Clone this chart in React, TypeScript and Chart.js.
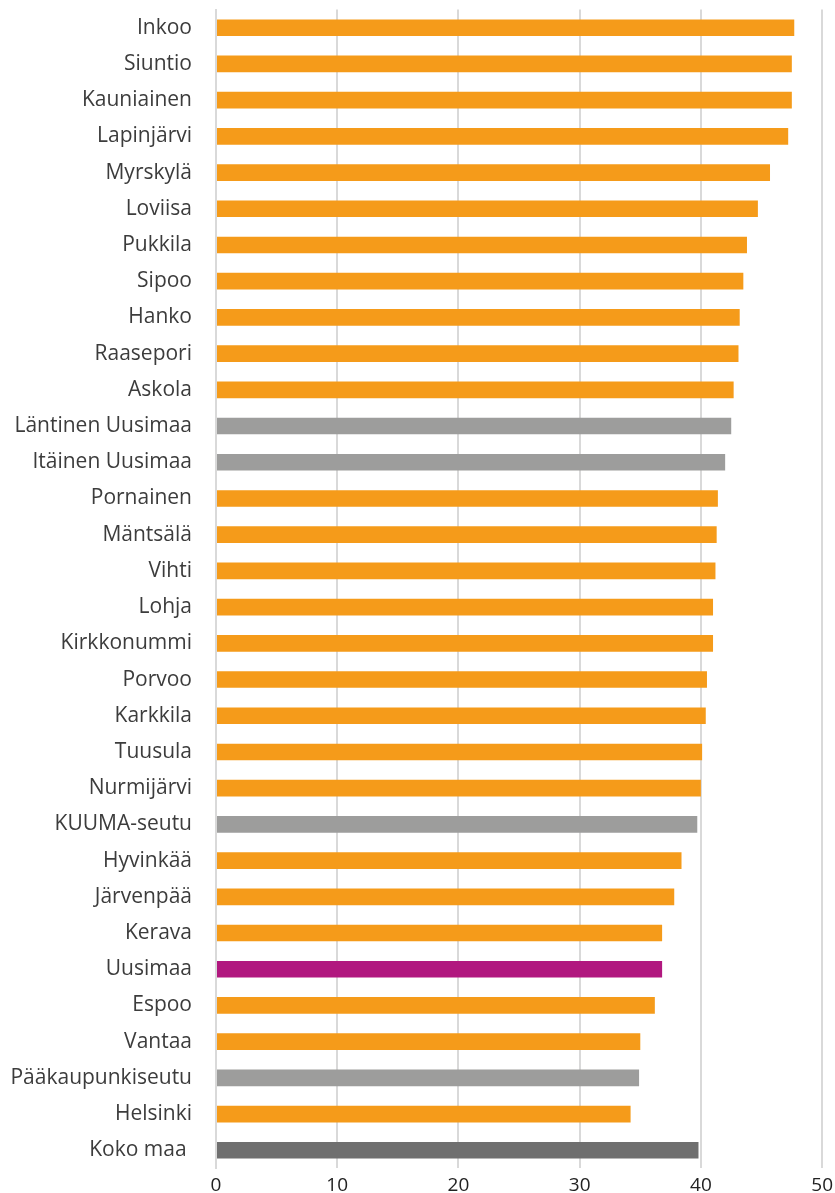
import React, { useEffect, useRef } from "react";
import { Chart, registerables } from "chart.js";

Chart.register(...registerables);

const categories = [
  "Inkoo", "Siuntio", "Kauniainen", "Lapinjärvi", "Myrskylä", "Loviisa", "Pukkila", "Sipoo",
  "Hanko", "Raasepori", "Askola", "Läntinen Uusimaa", "Itäinen Uusimaa", "Pornainen", "Mäntsälä",
  "Vihti", "Lohja", "Kirkkonummi", "Porvoo", "Karkkila", "Tuusula", "Nurmijärvi", "KUUMA-seutu",
  "Hyvinkää", "Järvenpää", "Kerava", "Uusimaa", "Espoo", "Vantaa", "Pääkaupunkiseutu", "Helsinki",
  "Koko maa ",
];

const values = [
  47.7, 47.5, 47.5, 47.2, 45.7, 44.7, 43.8, 43.5,
  43.2, 43.1, 42.7, 42.5, 42.0, 41.4, 41.3,
  41.2, 41.0, 41.0, 40.5, 40.4, 40.1, 40.0, 39.7,
  38.4, 37.8, 36.8, 36.8, 36.2, 35.0, 34.9, 34.2,
  39.8,
];

const kinds = [
  "m", "m", "m", "m", "m", "m", "m", "m",
  "m", "m", "m", "r", "r", "m", "m",
  "m", "m", "m", "m", "m", "m", "m", "r",
  "m", "m", "m", "u", "m", "m", "r", "m",
  "k",
];

const colorMap: Record<string, string> = {
  m: "#F59B1A",
  r: "#9D9D9C",
  u: "#B1187F",
  k: "#6F6F6F",
};

const CANVAS_TOP = -27;
const CANVAS_H = 1232;
const CANVAS_W = 839;

export default function App() {
  const ref = useRef<HTMLCanvasElement>(null);
  useEffect(() => {
    if (!ref.current) return;
    const chart = new Chart(ref.current, {
      type: "bar",
      data: {
        labels: categories,
        datasets: [
          {
            data: values,
            backgroundColor: kinds.map((k) => colorMap[k]),
            borderWidth: 0,
            barPercentage: 0.46,
            categoryPercentage: 1,
          },
        ],
      },
      options: {
        indexAxis: "y",
        animation: false,
        responsive: false,
        maintainAspectRatio: false,
        layout: { padding: { top: 0, right: 10, bottom: 0, left: 0 } },
        plugins: { legend: { display: false }, tooltip: { enabled: false } },
        scales: {
          x: {
            min: 0,
            max: 50,
            ticks: {
              stepSize: 10,
              color: "#222222",
              font: { family: "'Open Sans'", size: 19 },
              padding: 6,
            },
            grid: { color: "#D9D9D9", lineWidth: 2, drawTicks: false },
            border: { display: false },
            afterFit: (scale: any) => {
              scale.height = 28;
            },
          },
          y: {
            ticks: {
              color: "#3C3C3C",
              font: { family: "'Open Sans'", size: 21 },
              padding: 24,
            },
            grid: { display: false, drawTicks: false },
            border: { display: true, color: "#D9D9D9", width: 2 },
            afterFit: (scale: any) => {
              scale.width = 216;
            },
          },
        },
      },
    });
    return () => chart.destroy();
  }, []);
  return (
    <div
      style={{
        position: "absolute",
        left: 0,
        top: 0,
        width: 835,
        height: 1193,
        overflow: "hidden",
        background: "#fff",
      }}
    >
      <canvas
        ref={ref}
        width={CANVAS_W}
        height={CANVAS_H}
        style={{ position: "absolute", left: 0, top: CANVAS_TOP, width: CANVAS_W, height: CANVAS_H }}
      />
    </div>
  );
}
